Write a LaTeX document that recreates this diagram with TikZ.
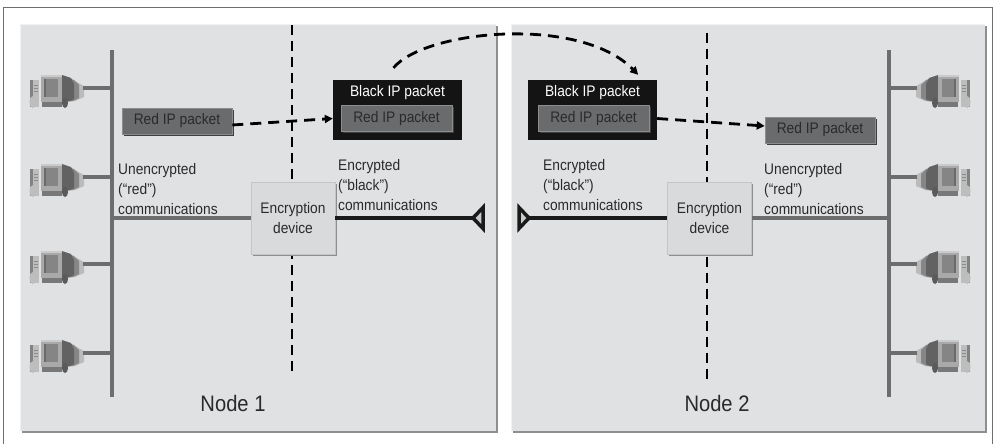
\documentclass[tikz,border=0pt]{standalone}
\usepackage{fontspec}
\setmainfont{Liberation Sans}[FakeStretch=0.9]
\usetikzlibrary{arrows.meta,calc,shadows}

\definecolor{panelfill}{HTML}{E0E1E3}
\definecolor{panelshade}{HTML}{8E8E8E}
\definecolor{panellight}{HTML}{F2F2F2}
\definecolor{framegray}{HTML}{6E6E6E}
\definecolor{busgray}{HTML}{6D6D6D}
\definecolor{pktgray}{HTML}{6A6B6D}
\definecolor{pktedge}{HTML}{8C8D8F}
\definecolor{pktshade}{HTML}{3E3E3E}
\definecolor{devfill}{HTML}{D9DADC}
\definecolor{devedge}{HTML}{C4C5C7}
\definecolor{inkgray}{HTML}{2A2A2A}
\definecolor{blackline}{HTML}{1A1A1A}
\definecolor{pcbezel}{HTML}{A9A9A9}
\definecolor{pcscreen}{HTML}{858585}
\definecolor{pcbody}{HTML}{626262}
\definecolor{pcshadow}{HTML}{BBBBBB}
\definecolor{pctower}{HTML}{BDBDBD}
\definecolor{pcdark}{HTML}{5A5A5A}

\tikzset{
  txt/.style={font=\fontsize{15.3}{20}\selectfont, text=inkgray, inner sep=0pt},
  commlabel/.style={txt, align=left, anchor=north west},
  nodelabel/.style={font=\fontsize{22.4}{26}\selectfont, text=inkgray, inner sep=0pt},
  redpkt/.style={txt, fill=pktgray, draw=pktedge, line width=0.6pt,
    minimum width=#1, minimum height=26pt,
    drop shadow={shadow xshift=1.5pt, shadow yshift=-1.5pt, fill=pktshade, opacity=1}},
  blackpkt/.style={fill=black!92, draw=none, minimum width=129pt, minimum height=60pt, inner sep=0pt},
  blacktitle/.style={txt, text=white, anchor=base},
  encdev/.style={txt, align=center, fill=devfill, draw=devedge, line width=0.6pt,
    minimum width=84pt, minimum height=72pt,
    drop shadow={shadow xshift=1.5pt, shadow yshift=-1.5pt, fill=panelshade, opacity=1}},
  redwire/.style={busgray, line width=4pt},
  blackwire/.style={blackline, line width=4pt},
  divider/.style={black, line width=2pt, dash pattern=on 10pt off 6pt},
  flow/.style={black, line width=2.8pt, dash pattern=on 11pt off 7pt,
    -{Triangle[length=8pt,width=8pt]}},
  endmark/.style={blackline, line width=3.5pt, fill=panelfill!75!gray},
  computer/.pic={
    % tower behind the monitor
    \fill[pctower] (-53,-8) rectangle (-44,19);
    \fill[pcdark!60!pctower] (-53,-8) rectangle (-50,19);
    \foreach \v in {-3,0,3} \draw[pcdark!50!pctower, line width=0.6pt] (-49,\v) -- (-45,\v);
    % monitor body and its soft shadow
    \fill[pcshadow] (-21,-11) -- (-8,-7) -- (1,-2) -- (1,9) -- (-8,13) -- (-21,14) -- cycle;
    \fill[pcbody!60!pcshadow] (-21,-12) -- (-9,-8) -- (-4,-3) -- (-4,10) -- (-10,13) -- (-21,14) -- cycle;
    \fill[pcbody] (-21,-13) -- (-12,-10) -- (-9,-4) -- (-9,11) -- (-13,13) -- (-21,14) -- cycle;
    % base and feet
    \fill[pcdark!70!pctower] (-41,13) rectangle (-21,19);
    \fill[pctower] (-50,14) ellipse [x radius=3.5, y radius=6];
    \fill[pcdark] (-18,15) ellipse [x radius=3, y radius=5];
    % bezel and screen
    \fill[pcbezel] (-42,-13) rectangle (-21,14);
    \fill[pcbezel!60!white] (-42,-13) rectangle (-21,-11);
    \fill[pcscreen] (-39,-9) rectangle (-25,9);
    \fill[pcscreen!80!black] (-39,-9) rectangle (-37,9);
    \coordinate (-port) at (0,0);
  }
}

\begin{document}
\begin{tikzpicture}[x=1pt,y=-1pt]
  \useasboundingbox (0,0) rectangle (995,444);
  \fill[white] (0,0) rectangle (995,444);

  % outer frame (open at the bottom)
  \draw[framegray, line width=1.6pt] (3.5,444) -- (3.5,7.5) -- (992.5,7.5) -- (992.5,444);

  % the two sites
  \foreach \xa/\xb in {20/496, 511/985} {
    \fill[panelshade] (\xa+2,26) rectangle (\xb+1.5,432.5);
    \fill[panelfill] (\xa,24) rectangle (\xb,431);
    \draw[panellight, line width=1.2pt] (\xa+0.6,431) -- (\xa+0.6,24.6) -- (\xb,24.6);
  }

  % boundaries between plain and protected sides
  \coordinate (d1top) at (292,25);
  \coordinate (d1bot) at (292,377);
  \coordinate (d2top) at (707,33);
  \coordinate (d2bot) at (707,385);
  \draw[divider] (d1top) -- (d1bot);
  \draw[divider] (d2top) -- (d2bot);

  % LAN buses
  \coordinate (busLtop) at (112,50);
  \coordinate (busLbot) at (112,397);
  \coordinate (busRtop) at (889,50);
  \coordinate (busRbot) at (889,397);
  \draw[busgray, line width=4pt] (busLtop) -- (busLbot);
  \draw[busgray, line width=4pt] (busRtop) -- (busRbot);

  % hosts
  \foreach \n/\y in {1/88, 2/177, 3/264, 4/353} {
    \pic (pcL\n) at (83,\y) {computer};
    \pic[xscale=-1] (pcR\n) at (917,\y) {computer};
    \draw[redwire] (pcL\n-port) -- (pcL\n-port -| busLtop);
    \draw[redwire] (pcR\n-port) -- (pcR\n-port -| busRtop);
  }

  % encryption devices
  \node[encdev] (enc1) at (293,218) {Encryption\\device};
  \node[encdev] (enc2) at (709.5,218) {Encryption\\device};

  % wires to the devices
  \coordinate (tipL) at (473,218);
  \coordinate (tipR) at (529,218);
  \draw[blackwire] (enc1.east) -- (tipL);
  \draw[blackwire] (tipR) -- (enc2.west);
  \draw[redwire] (enc1.west -| busLtop) -- (enc1.west);
  \draw[redwire] (enc2.east) -- (enc2.east -| busRtop);
  \draw[endmark] (tipL) -- ++(10,-10.5) -- ++(0,21) -- cycle;
  \draw[endmark] (tipR) -- ++(-10,-10.5) -- ++(0,21) -- cycle;

  % labels of the links
  \node[commlabel] (ul) at (118,163) {Unencrypted\\(“red”)\\communications};
  \node[commlabel] (el) at (338,159) {Encrypted\\(“black”)\\communications};
  \node[commlabel] (er) at (543,159) {Encrypted\\(“black”)\\communications};
  \node[commlabel] (ur) at (764,163) {Unencrypted\\(“red”)\\communications};

  % packets
  \node[redpkt=110pt] (rp1) at (177,121) {Red IP packet};
  \node[blackpkt] (bk1) at (397.5,110) {};
  \node[blacktitle] at ($(bk1.north)+(0,17)$) {Black IP packet};
  \node[redpkt=111pt] (rpi1) at (396.5,118.5) {Red IP packet};
  \node[blackpkt] (bk2) at (592.5,110) {};
  \node[blacktitle] at ($(bk2.north)+(0,17)$) {Black IP packet};
  \node[redpkt=111pt] (rpi2) at (593.5,118.5) {Red IP packet};
  \node[redpkt=110pt] (rp2) at (820,130) {Red IP packet};

  % packet flow
  \draw[flow] ([yshift=-4pt]rp1.east) -- (rpi1.west -| bk1.west);
  \draw[flow] ($(bk1.north)+(-4,-12)$) .. controls (425,30) and (580,15) .. ($(bk2.north east)+(-19,-5)$);
  \draw[flow] (rpi2.east -| bk2.east) -- ([yshift=4pt]rp2.west);

  % site names
  \node[nodelabel] (n1) at (233,403) {Node 1};
  \node[nodelabel] (n2) at (717,403) {Node 2};
\end{tikzpicture}
\end{document}
